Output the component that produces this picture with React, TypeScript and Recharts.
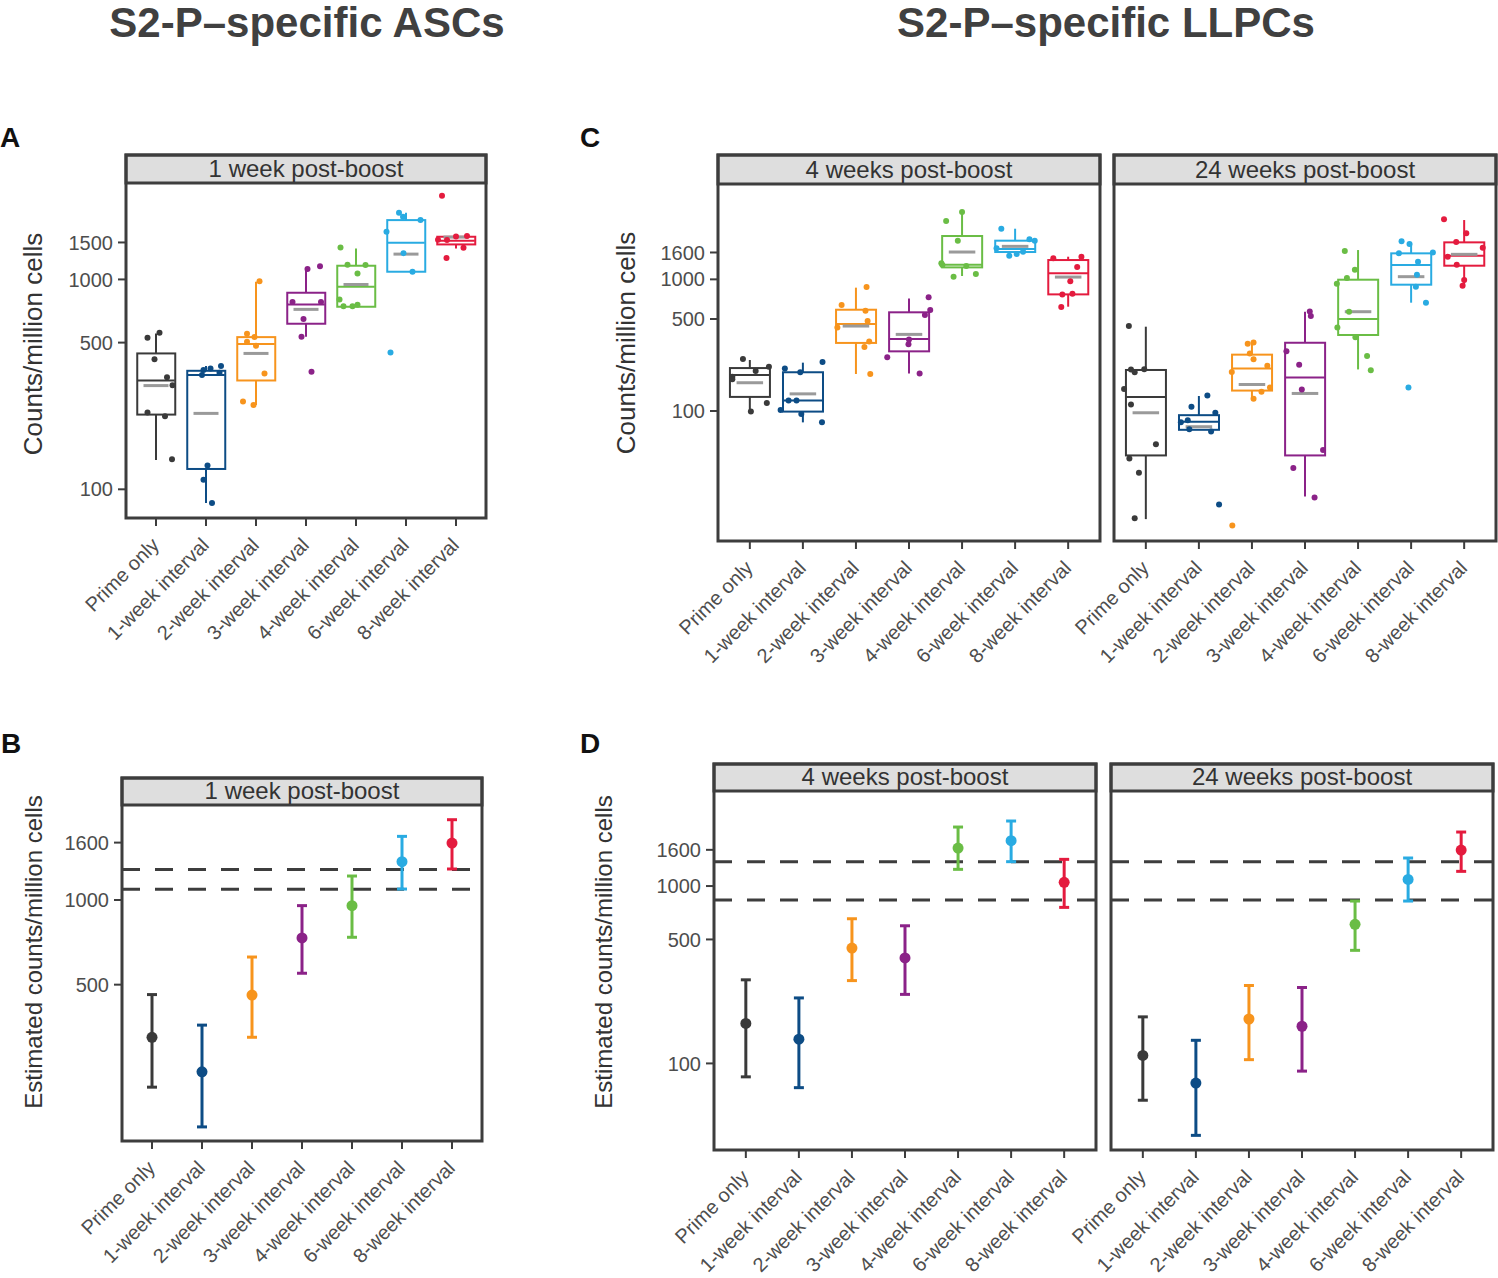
import React from "react";
import {
  ComposedChart,
  XAxis,
  YAxis,
  Bar,
  Scatter,
  ErrorBar,
  ReferenceLine,
} from "recharts";

const FONT = '"Liberation Sans", Arial, Helvetica, sans-serif';
const INK = "#3d3d3d";
const TICK_TEXT = "#4d4d4d";
const MEAN_GREY = "#9a9a9a";
const XH = 150; // room under each panel for the rotated labels
const SIDE = 110; // left room for y axis / first rotated label
const RIGHT = 30;

const GROUPS = [
  "Prime only",
  "1-week interval",
  "2-week interval",
  "3-week interval",
  "4-week interval",
  "6-week interval",
  "8-week interval",
];
const COLORS = ["#3a3a3a", "#0d4c85", "#f7941d", "#8b2288", "#6abd45", "#29abe2", "#e41b3e"];

// group index, jitter (in category units), value
type Dot = [number, number, number];

// A: S2-P-specific ASCs, 1 week post-boost
const ascLow = [138, 86, 252, 533, 741, 1088, 1405];
const ascQ1 = [227, 125, 330, 615, 741, 1088, 1468];
const ascMedian = [330, 350, 492, 760, 923, 1495, 1530];
const ascQ3 = [444, 367, 531, 864, 1162, 1917, 1597];
const ascHigh = [553, 387, 975, 1128, 1405, 2078, 1608];
const ascMean = [312, 230, 444, 720, 946, 1320, 1591];
const ascDots: Dot[] = [
  [0, -0.17, 528], [0, 0.07, 557], [0, -0.03, 416], [0, 0.22, 342], [0, 0.33, 313], [0, -0.17, 232], [0, 0.18, 223], [0, 0.32, 139],
  [1, -0.08, 350], [1, -0.05, 370], [1, 0.09, 376], [1, 0.27, 359], [1, 0.3, 387], [1, 0.03, 130], [1, -0.05, 111], [1, 0.12, 86],
  [2, 0.07, 981], [2, -0.18, 551], [2, -0.03, 531], [2, -0.18, 505], [2, 0, 483], [2, 0.17, 356], [2, -0.26, 262], [2, -0.05, 252],
  [3, 0.03, 1120], [3, 0.28, 1157], [3, -0.27, 780], [3, 0.3, 780], [3, -0.05, 647], [3, -0.09, 533], [3, 0.11, 363],
  [4, -0.31, 1420], [4, -0.17, 1175], [4, 0.19, 1170], [4, 0.03, 1068], [4, -0.33, 803], [4, -0.25, 746], [4, -0.07, 746], [4, 0.03, 757],
  [5, -0.14, 2078], [5, -0.06, 1988], [5, 0.29, 1917], [5, -0.39, 1687], [5, -0.05, 1334], [5, 0.13, 1088], [5, -0.31, 448],
  [6, -0.28, 2501], [6, 0, 1602], [6, 0.22, 1608], [6, -0.36, 1545], [6, -0.18, 1540], [6, 0.15, 1415], [6, -0.19, 1264],
];

// C: S2-P-specific LLPCs, 4 weeks post-boost
const llpc4Low = [99, 82, 191, 193, 1060, 1557, 620];
const llpc4Q1 = [128, 99, 329, 284, 1233, 1613, 769];
const llpc4Median = [188, 120, 458, 352, 1292, 1700, 1111];
const llpc4Q3 = [212, 197, 588, 562, 2134, 1967, 1402];
const llpc4High = [244, 233, 865, 717, 3246, 2425, 1486];
const llpc4Mean = [164, 135, 442, 382, 1613, 1781, 1041];
const llpc4Dots: Dot[] = [
  [0, -0.13, 248], [0, 0.36, 217], [0, 0.11, 201], [0, -0.33, 182], [0, -0.33, 174], [0, 0.32, 115], [0, 0.02, 99],
  [1, 0.37, 236], [1, -0.34, 210], [1, -0.05, 197], [1, -0.27, 120], [1, -0.12, 120], [1, -0.42, 102], [1, -0.03, 95], [1, 0.36, 82],
  [2, 0.2, 875], [2, -0.27, 638], [2, 0.18, 578], [2, 0.22, 483], [2, -0.35, 430], [2, 0.25, 338], [2, 0.16, 306], [2, 0.27, 191],
  [3, 0.37, 730], [3, 0.4, 585], [3, 0.3, 536], [3, 0, 350], [3, -0.01, 321], [3, -0.41, 256], [3, 0.2, 193],
  [4, 0, 3246], [4, -0.3, 2773], [4, -0.08, 1967], [4, -0.39, 1323], [4, -0.37, 1285], [4, 0.08, 1263], [4, -0.16, 1048], [4, 0.26, 1098],
  [5, -0.26, 2425], [5, 0.27, 2013], [5, 0.37, 1967], [5, -0.35, 1720], [5, 0.15, 1623], [5, 0.03, 1557], [5, -0.11, 1513],
  [6, -0.28, 1444], [6, 0.25, 1486], [6, 0.17, 1241], [6, 0.04, 966], [6, -0.11, 769], [6, 0.08, 778], [6, -0.13, 617],
];

// C: S2-P-specific LLPCs, 24 weeks post-boost
const llpc24Low = [15.1, 72, 125, 22.4, 207, 665, 895];
const llpc24Q1 = [46, 72, 143, 46, 378, 911, 1270];
const llpc24Median = [128, 83, 210, 180, 500, 1285, 1513];
const llpc24Q3 = [205, 93, 268, 330, 994, 1576, 1910];
const llpc24High = [437, 130, 330, 568, 1670, 1877, 2822];
const llpc24Mean = [97, 76, 159, 136, 568, 1048, 1549];
const llpc24Dots: Dot[] = [
  [0, -0.32, 442], [0, -0.28, 207], [0, -0.21, 197], [0, -0.03, 208], [0, -0.41, 147], [0, -0.28, 112], [0, 0.19, 56], [0, -0.31, 43.5], [0, -0.13, 34], [0, -0.21, 15.3],
  [1, 0.16, 131], [1, -0.14, 108], [1, 0.31, 97], [1, -0.21, 85], [1, -0.34, 82], [1, -0.18, 72.6], [1, 0.23, 70], [1, 0.38, 19.5],
  [2, -0.08, 325], [2, 0.03, 332], [2, -0.04, 274], [2, 0.03, 247], [2, -0.38, 198], [2, 0.29, 221], [2, 0.34, 151], [2, 0.18, 140], [2, 0.03, 124], [2, -0.37, 13.5],
  [3, 0.09, 571], [3, 0.11, 527], [3, -0.35, 284], [3, -0.11, 225], [3, -0.06, 146], [3, 0.34, 50.5], [3, -0.22, 37], [3, 0.18, 22],
  [4, -0.25, 1641], [4, -0.06, 1184], [4, -0.21, 1024], [4, -0.4, 927], [4, -0.17, 568], [4, -0.39, 430], [4, -0.05, 363], [4, 0.17, 262], [4, 0.24, 204],
  [5, -0.18, 1944], [5, -0.03, 1855], [5, -0.23, 1576], [5, 0.41, 1603], [5, 0.13, 1362], [5, 0.11, 1085], [5, 0.09, 880], [5, 0.28, 665], [5, -0.05, 151],
  [6, -0.38, 2856], [6, 0.04, 2236], [6, -0.15, 1921], [6, 0.35, 1740], [6, -0.31, 1486], [6, -0.14, 1292], [6, 0, 989], [6, -0.03, 895],
];

// B: estimated ASCs, 1 week post-boost
const ascEst = [325, 245, 459, 733, 955, 1369, 1594];
const ascEstLow = [216, 156, 325, 549, 737, 1094, 1289];
const ascEstHigh = [461, 359, 627, 955, 1217, 1684, 1930];
const ascRefLines = [1285, 1091];

// D: estimated LLPCs
const llpc4Est = [168, 137, 447, 393, 1638, 1801, 1049];
const llpc4EstLow = [84, 73, 293, 245, 1242, 1372, 758];
const llpc4EstHigh = [296, 234, 654, 597, 2151, 2326, 1414];
const llpc24Est = [111, 77.5, 178, 162, 608, 1090, 1596];
const llpc24EstLow = [62, 39.3, 105, 90.5, 434, 823, 1210];
const llpc24EstHigh = [183, 135, 275, 268, 823, 1439, 2016];
const llpcRefLines = [1372, 834];

// axis setup
const ascTicks = [100, 500, 1000, 1500];
const ascDomain = [73, 2880];
const llpcTicks = [100, 500, 1000, 1600];
const llpcDomain = [10.3, 5300];
const ascEstTicks = [500, 1000, 1600];
const ascEstDomain = [139, 2177];
const llpcEstTicks = [100, 500, 1000, 1600];
const llpcEstDomain = [32.5, 3434];

interface Frame {
  left: number; // plot area left
  top: number; // plot area top
  width: number;
  height: number;
  yw: number; // y axis width, 0 = no y axis
}

interface BoxStats {
  low: number[];
  q1: number[];
  median: number[];
  q3: number[];
  high: number[];
  mean: number[];
  dots: Dot[];
}

const XTick = (props: any) => {
  const { x, y, payload } = props;
  return (
    <text
      transform={`translate(${x},${y + 14}) rotate(-45)`}
      textAnchor="end"
      dy="0.3em"
      fontSize={20}
      fill={TICK_TEXT}
      fontFamily={FONT}
    >
      {payload.value}
    </text>
  );
};

const NoShape = () => <g />;

const BoxShape = (props: any) => {
  const { x, y, width, height, payload } = props;
  return (
    <rect x={x} y={y} width={width} height={height} fill="none" stroke={payload.color} strokeWidth={2} />
  );
};

// shared axes for one facet
function axes(frame: Frame, domain: number[], ticks: number[]) {
  const pad = frame.width / 72; // ggplot's 0.6 unit expansion on a discrete axis
  return [
    <XAxis
      key="cat"
      xAxisId="cat"
      dataKey="group"
      type="category"
      scale="band"
      interval={0}
      padding={{ left: pad, right: pad }}
      height={XH}
      axisLine={false}
      tickSize={8}
      tickMargin={2}
      tickLine={{ stroke: INK, strokeWidth: 2 }}
      tick={<XTick />}
    />,
    <XAxis key="num" xAxisId="num" dataKey="x" type="number" domain={[0.4, 7.6]} allowDataOverflow hide />,
    <YAxis
      key="y"
      type="number"
      scale="log"
      domain={domain}
      ticks={ticks}
      interval={0}
      allowDataOverflow
      hide={frame.yw === 0}
      width={frame.yw}
      axisLine={false}
      tickSize={8}
      tickMargin={5}
      tickLine={{ stroke: INK, strokeWidth: 2 }}
      tick={{ fontSize: 20, fill: TICK_TEXT, fontFamily: FONT }}
    />,
  ];
}

function chartBox(frame: Frame) {
  const ml = SIDE - frame.yw;
  return {
    pos: { position: "absolute" as const, left: frame.left - SIDE, top: frame.top },
    width: SIDE + frame.width + RIGHT,
    height: frame.height + XH,
    margin: { top: 0, right: RIGHT, bottom: 0, left: ml },
  };
}

function BoxFacet({ frame, stats, domain, ticks }: { frame: Frame; stats: BoxStats; domain: number[]; ticks: number[] }) {
  const rows = GROUPS.map((g, i) => ({ group: g, box: [stats.q1[i], stats.q3[i]], color: COLORS[i] }));
  const means = GROUPS.map((_, i) => ({ x: i + 1, y: stats.mean[i], ex: [0.25, 0.25] }));
  const dots = stats.dots.map(([g, j, v]) => ({ x: g + 1 + j, y: v, g }));
  const box = chartBox(frame);
  return (
    <div style={box.pos}>
      <ComposedChart width={box.width} height={box.height} data={rows} margin={box.margin} barCategoryGap="12.5%">
        {axes(frame, domain, ticks)}
        <Bar xAxisId="cat" dataKey="box" shape={BoxShape} isAnimationActive={false} />
        {GROUPS.map((g, i) => (
          <Scatter
            key={g}
            xAxisId="num"
            dataKey="y"
            data={[
              { x: i + 1, y: stats.q3[i], ey: [0, stats.high[i] - stats.q3[i]], ex: [0, 0] },
              { x: i + 1, y: stats.q1[i], ey: [stats.q1[i] - stats.low[i], 0], ex: [0, 0] },
              { x: i + 1, y: stats.median[i], ey: [0, 0], ex: [0.375, 0.375] },
            ]}
            shape={NoShape}
            isAnimationActive={false}
          >
            <ErrorBar dataKey="ey" direction="y" width={0} stroke={COLORS[i]} strokeWidth={2} isAnimationActive={false} />
            <ErrorBar dataKey="ex" direction="x" width={0} stroke={COLORS[i]} strokeWidth={2} isAnimationActive={false} />
          </Scatter>
        ))}
        <Scatter xAxisId="num" dataKey="y" data={means} shape={NoShape} isAnimationActive={false}>
          <ErrorBar dataKey="ex" direction="x" width={0} stroke={MEAN_GREY} strokeWidth={3} isAnimationActive={false} />
        </Scatter>
        <Scatter
          xAxisId="num"
          dataKey="y"
          data={dots}
          isAnimationActive={false}
          shape={(p: any) => <circle cx={p.cx} cy={p.cy} r={3} fill={COLORS[p.payload.g]} />}
        />
      </ComposedChart>
    </div>
  );
}

function EstFacet({
  frame, est, low, high, refs, domain, ticks,
}: { frame: Frame; est: number[]; low: number[]; high: number[]; refs: number[]; domain: number[]; ticks: number[] }) {
  const rows = GROUPS.map((g) => ({ group: g }));
  const box = chartBox(frame);
  return (
    <div style={box.pos}>
      <ComposedChart width={box.width} height={box.height} data={rows} margin={box.margin}>
        {axes(frame, domain, ticks)}
        {refs.map((v) => (
          <ReferenceLine key={v} xAxisId="cat" y={v} stroke={INK} strokeWidth={3} strokeDasharray="18 15" />
        ))}
        {GROUPS.map((g, i) => (
          <Scatter
            key={g}
            xAxisId="num"
            dataKey="y"
            data={[{ x: i + 1, y: est[i], ey: [est[i] - low[i], high[i] - est[i]] }]}
            isAnimationActive={false}
            shape={(p: any) => <circle cx={p.cx} cy={p.cy} r={5.5} fill={COLORS[i]} />}
          >
            <ErrorBar dataKey="ey" direction="y" width={5} stroke={COLORS[i]} strokeWidth={3} isAnimationActive={false} />
          </Scatter>
        ))}
      </ComposedChart>
    </div>
  );
}

// panel frames: plot area of each facet
const frameA: Frame = { left: 126, top: 183, width: 360, height: 335, yw: 110 };
const frameC1: Frame = { left: 718, top: 184, width: 382, height: 357, yw: 110 };
const frameC2: Frame = { left: 1114, top: 184, width: 382, height: 357, yw: 0 };
const frameB: Frame = { left: 122, top: 805, width: 360, height: 336, yw: 110 };
const frameD1: Frame = { left: 714, top: 791, width: 382, height: 359, yw: 110 };
const frameD2: Frame = { left: 1111, top: 791, width: 382, height: 359, yw: 0 };

const strips: { f: Frame; stripTop: number; label: string }[] = [
  { f: frameA, stripTop: 155, label: "1 week post-boost" },
  { f: frameC1, stripTop: 155, label: "4 weeks post-boost" },
  { f: frameC2, stripTop: 155, label: "24 weeks post-boost" },
  { f: frameB, stripTop: 778, label: "1 week post-boost" },
  { f: frameD1, stripTop: 764, label: "4 weeks post-boost" },
  { f: frameD2, stripTop: 764, label: "24 weeks post-boost" },
];

const yTitles = [
  { x: 42, y: 344, size: 26, text: "Counts/million cells" },
  { x: 635, y: 343, size: 26, text: "Counts/million cells" },
  { x: 42, y: 952, size: 24, text: "Estimated counts/million cells" },
  { x: 612, y: 952, size: 24, text: "Estimated counts/million cells" },
];

export default function App() {
  return (
    <div style={{ position: "absolute", left: 0, top: 0, width: 1498, height: 1278, background: "#fff", fontFamily: FONT, overflow: "hidden" }}>
      <BoxFacet
        frame={frameA}
        stats={{ low: ascLow, q1: ascQ1, median: ascMedian, q3: ascQ3, high: ascHigh, mean: ascMean, dots: ascDots }}
        domain={ascDomain}
        ticks={ascTicks}
      />
      <BoxFacet
        frame={frameC1}
        stats={{ low: llpc4Low, q1: llpc4Q1, median: llpc4Median, q3: llpc4Q3, high: llpc4High, mean: llpc4Mean, dots: llpc4Dots }}
        domain={llpcDomain}
        ticks={llpcTicks}
      />
      <BoxFacet
        frame={frameC2}
        stats={{ low: llpc24Low, q1: llpc24Q1, median: llpc24Median, q3: llpc24Q3, high: llpc24High, mean: llpc24Mean, dots: llpc24Dots }}
        domain={llpcDomain}
        ticks={llpcTicks}
      />
      <EstFacet frame={frameB} est={ascEst} low={ascEstLow} high={ascEstHigh} refs={ascRefLines} domain={ascEstDomain} ticks={ascEstTicks} />
      <EstFacet frame={frameD1} est={llpc4Est} low={llpc4EstLow} high={llpc4EstHigh} refs={llpcRefLines} domain={llpcEstDomain} ticks={llpcEstTicks} />
      <EstFacet frame={frameD2} est={llpc24Est} low={llpc24EstLow} high={llpc24EstHigh} refs={llpcRefLines} domain={llpcEstDomain} ticks={llpcEstTicks} />

      <svg width={1498} height={1278} style={{ position: "absolute", left: 0, top: 0, pointerEvents: "none" }} fontFamily={FONT}>
        <text x={307} y={37} textAnchor="middle" fontSize={42} fontWeight="bold" fill="#404040">S2-P–specific ASCs</text>
        <text x={1106} y={37} textAnchor="middle" fontSize={42} fontWeight="bold" fill="#404040">S2-P–specific LLPCs</text>
        <text x={0} y={147} fontSize={28} fontWeight="bold" fill="#111">A</text>
        <text x={580} y={147} fontSize={28} fontWeight="bold" fill="#111">C</text>
        <text x={1} y={753} fontSize={28} fontWeight="bold" fill="#111">B</text>
        <text x={580} y={753} fontSize={28} fontWeight="bold" fill="#111">D</text>
        {yTitles.map((t, i) => (
          <text key={i} transform={`translate(${t.x},${t.y}) rotate(-90)`} textAnchor="middle" fontSize={t.size} fill="#333">
            {t.text}
          </text>
        ))}
        {strips.map(({ f, stripTop, label }, i) => (
          <g key={i}>
            <rect x={f.left} y={stripTop} width={f.width} height={f.top - stripTop} fill="#dedede" stroke={INK} strokeWidth={3} />
            <rect x={f.left} y={stripTop} width={f.width} height={f.top + f.height - stripTop} fill="none" stroke={INK} strokeWidth={3} />
            <text x={f.left + f.width / 2} y={f.top - 6} textAnchor="middle" fontSize={24} fill="#333">
              {label}
            </text>
          </g>
        ))}
      </svg>
    </div>
  );
}
